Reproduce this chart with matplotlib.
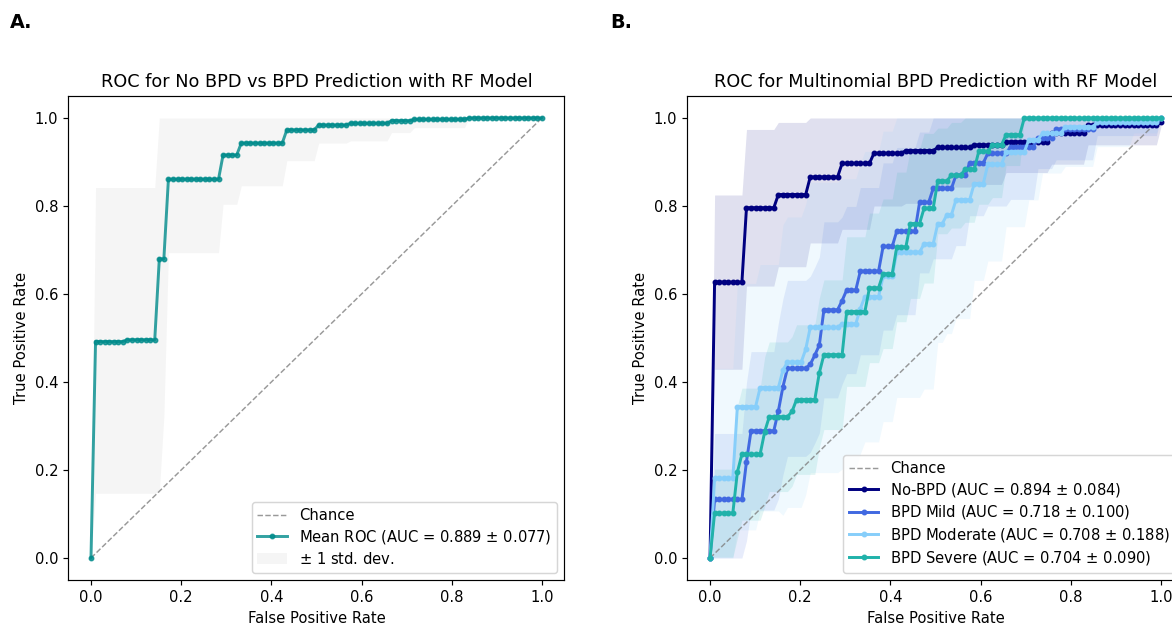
import numpy as np
import matplotlib
matplotlib.use("Agg")
import matplotlib.pyplot as plt

# values on the 100-point FPR grid, stored as (count, value) runs
fpr_grid = np.linspace(0, 1, 100)

# panel A: No BPD vs BPD
rf_mean = [(1, 0.0), (7, 0.492), (7, 0.496), (2, 0.68), (12, 0.861), (4, 0.916),
           (10, 0.943), (7, 0.973), (7, 0.984), (9, 0.988), (5, 0.994), (12, 0.997), (17, 1.0)]
rf_lower = [(1, 0.0), (14, 0.147), (1, 0.15), (1, 0.322), (12, 0.694), (4, 0.804),
            (10, 0.846), (7, 0.903), (7, 0.943), (9, 0.948), (5, 0.967), (12, 0.978), (17, 1.0)]
rf_upper = [(1, 0.0), (14, 0.842), (85, 1.0)]
rf_auc = (0.889, 0.077)

# panel B: multinomial
classes = ["No-BPD", "BPD Mild", "BPD Moderate", "BPD Severe"]
class_auc = [(0.894, 0.084), (0.718, 0.100), (0.708, 0.188), (0.704, 0.090)]
class_mean = [
    [(1, 0.0), (7, 0.627), (7, 0.796), (7, 0.826), (7, 0.866), (7, 0.897), (7, 0.920),
     (7, 0.926), (8, 0.933), (7, 0.939), (10, 0.946), (8, 0.965), (16, 0.984), (1, 0.99)],
    [(1, 0.0), (7, 0.133), (1, 0.219), (6, 0.289), (1, 0.334), (1, 0.389), (5, 0.431),
     (1, 0.44), (1, 0.461), (1, 0.484), (4, 0.564), (1, 0.585), (3, 0.609), (5, 0.652),
     (3, 0.708), (5, 0.743), (3, 0.808), (5, 0.84), (3, 0.87), (4, 0.898), (5, 0.92),
     (6, 0.935), (4, 0.955), (9, 0.975), (14, 0.99), (1, 1.0)],
    [(1, 0.0), (5, 0.181), (5, 0.344), (5, 0.387), (1, 0.427), (4, 0.445), (1, 0.474),
     (7, 0.524), (4, 0.532), (1, 0.567), (4, 0.594), (3, 0.64), (6, 0.695), (3, 0.714),
     (2, 0.76), (2, 0.78), (4, 0.814), (3, 0.851), (4, 0.895), (5, 0.923), (3, 0.951),
     (5, 0.965), (7, 0.98), (14, 0.99), (1, 1.0)],
    [(1, 0.0), (5, 0.102), (1, 0.195), (5, 0.236), (1, 0.287), (5, 0.321), (1, 0.333),
     (5, 0.36), (1, 0.421), (5, 0.462), (5, 0.56), (3, 0.614), (3, 0.646), (3, 0.707),
     (3, 0.76), (3, 0.795), (3, 0.857), (3, 0.87), (3, 0.883), (3, 0.924), (3, 0.939),
     (4, 0.962), (31, 1.0)],
]
class_std = [
    [(1, 0.0), (7, 0.198), (7, 0.178), (7, 0.164), (14, 0.15), (14, 0.12), (15, 0.09),
     (18, 0.07), (16, 0.045), (1, 0.01)],
    [(1, 0.0), (7, 0.15), (7, 0.18), (14, 0.2), (17, 0.19), (11, 0.16), (15, 0.12),
     (13, 0.07), (14, 0.03), (1, 0.0)],
    [(1, 0.0), (5, 0.25), (10, 0.28), (34, 0.33), (8, 0.27), (7, 0.22), (5, 0.17),
     (3, 0.137), (12, 0.09), (8, 0.055), (6, 0.024), (1, 0.0)],
    [(1, 0.0), (5, 0.1), (6, 0.15), (38, 0.17), (15, 0.12), (4, 0.07), (31, 0.0)],
]
class_colors = ["navy", "royalblue", "lightskyblue", "lightseagreen"]


def expand(runs):
    counts = [c for c, v in runs]
    values = [v for c, v in runs]
    return np.repeat(values, counts)


DPI = 106
fig = plt.figure(figsize=(1172 / DPI, 625 / DPI), dpi=DPI)
ax1 = fig.add_axes([0.0584, 0.072, 0.4232, 0.7744])
ax2 = fig.add_axes([0.5866, 0.072, 0.4232, 0.7744])

# A
ax1.plot([0, 1], [0, 1], linestyle="--", lw=1, color="grey", alpha=0.8, label="Chance")
ax1.plot(fpr_grid, expand(rf_mean), color="darkcyan", marker=".", lw=2, alpha=0.8,
         label="Mean ROC (AUC = %0.3f $\\pm$ %0.3f)" % rf_auc)
ax1.fill_between(fpr_grid, expand(rf_lower), expand(rf_upper), color="lightgrey", alpha=0.22,
                 lw=0, label=r"$\pm$ 1 std. dev.")
ax1.set_xlim(-0.05, 1.05)
ax1.set_ylim(-0.05, 1.05)
ax1.set_xlabel("False Positive Rate")
ax1.set_ylabel("True Positive Rate")
ax1.set_title("ROC for No BPD vs BPD Prediction with RF Model")
ax1.legend(loc="lower right", labelspacing=0.34)

# B
ax2.plot([0, 1], [0, 1], linestyle="--", lw=1, color="grey", alpha=0.8, label="Chance")
for name, auc, m, s, col in zip(classes, class_auc, class_mean, class_std, class_colors):
    mean_tpr = expand(m)
    std_tpr = expand(s)
    ax2.plot(fpr_grid, mean_tpr, color=col, marker=".", lw=2,
             label="%s (AUC = %0.3f $\\pm$ %0.3f)" % (name, auc[0], auc[1]))
    ax2.fill_between(fpr_grid, np.maximum(mean_tpr - std_tpr, 0),
                     np.minimum(mean_tpr + std_tpr, 1), color=col, alpha=0.12, lw=0)
ax2.set_xlim(-0.05, 1.05)
ax2.set_ylim(-0.05, 1.05)
ax2.set_xlabel("False Positive Rate")
ax2.set_ylabel("True Positive Rate")
ax2.set_title("ROC for Multinomial BPD Prediction with RF Model")
ax2.legend(loc="lower right", labelspacing=0.32)

fig.text(10 / 1172, 1 - 22 / 625, "A.", fontsize=13, fontweight="bold", va="center")
fig.text(610 / 1172, 1 - 22 / 625, "B.", fontsize=13, fontweight="bold", va="center")

fig.savefig("out.png", dpi=DPI)
